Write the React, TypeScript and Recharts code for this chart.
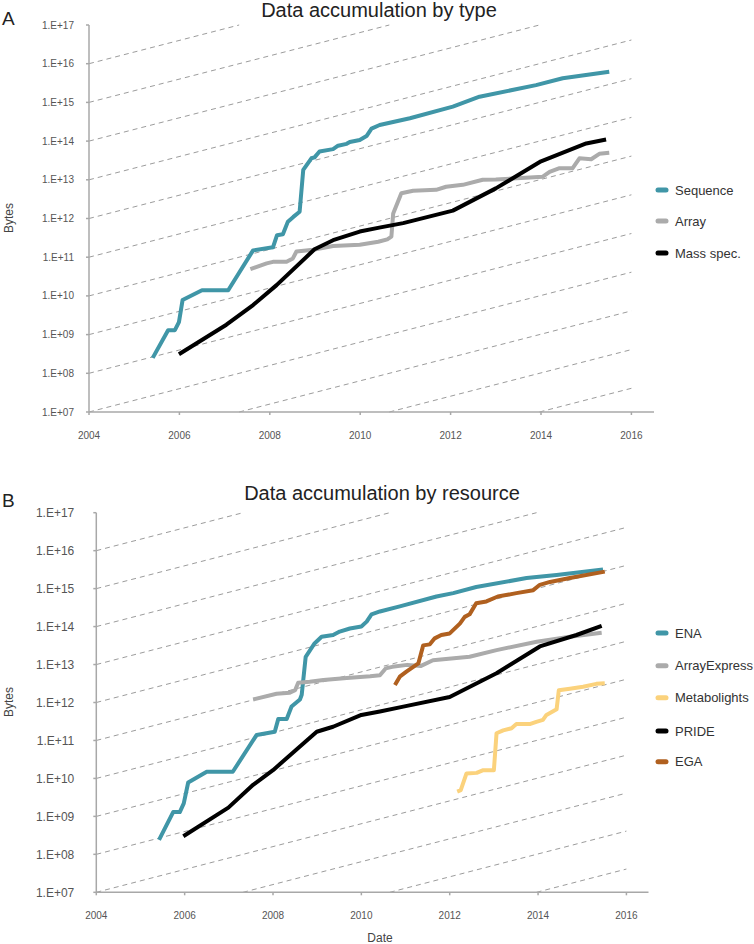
import React from "react";
import { LineChart, Line, XAxis, YAxis, ReferenceLine } from "recharts";

const FONT = "'Liberation Sans', Arial, sans-serif";

const yearTicks = [2004, 2006, 2008, 2010, 2012, 2014, 2016];
const byteTicks = [1e7, 1e8, 1e9, 1e10, 1e11, 1e12, 1e13, 1e14, 1e15, 1e16, 1e17];

// Panel A — by type
const sequenceYears = [2005.41, 2005.75, 2005.9, 2005.99, 2006.07, 2006.5, 2007.08, 2007.63, 2008.07, 2008.16, 2008.29, 2008.4, 2008.52, 2008.66, 2008.74, 2008.92, 2008.99, 2009.1, 2009.4, 2009.51, 2009.7, 2009.77, 2009.99, 2010.14, 2010.25, 2010.43, 2011.1, 2012.05, 2012.64, 2013.89, 2014.48, 2015.51];
const sequenceBytes = [2.5e8, 1.3e9, 1.3e9, 2.1e9, 7.8e9, 1.4e10, 1.4e10, 1.5e11, 1.8e11, 3.7e11, 3.9e11, 8.3e11, 1.1e12, 1.5e12, 1.8e13, 3.6e13, 3.8e13, 5.4e13, 6.2e13, 7.6e13, 8.5e13, 9.5e13, 1.07e14, 1.35e14, 2.1e14, 2.6e14, 3.9e14, 7.8e14, 1.4e15, 2.8e15, 4.2e15, 6.2e15];

const arrayYears = [2007.57, 2007.93, 2008.07, 2008.37, 2008.51, 2008.59, 2008.96, 2009.4, 2009.99, 2010.4, 2010.6, 2010.69, 2010.73, 2010.91, 2011.17, 2011.68, 2011.9, 2012.27, 2012.71, 2013.0, 2014.04, 2014.19, 2014.41, 2014.7, 2014.85, 2015.11, 2015.29, 2015.51];
const arrayBytes = [4.9e10, 6.9e10, 7.6e10, 7.6e10, 9.3e10, 1.4e11, 1.55e11, 1.95e11, 2.1e11, 2.5e11, 2.9e11, 3.4e11, 1.35e12, 4.5e12, 5.2e12, 5.5e12, 6.6e12, 7.4e12, 1.0e13, 1.02e13, 1.2e13, 1.6e13, 2.0e13, 2.0e13, 3.6e13, 3.4e13, 4.7e13, 5.0e13];

const massSpecYears = [2005.99, 2007.04, 2007.63, 2008.15, 2008.99, 2009.4, 2009.99, 2010.45, 2010.95, 2012.05, 2013.0, 2014.0, 2015.0, 2015.44];
const massSpecBytes = [3.1e8, 1.8e9, 5.8e9, 1.9e10, 1.6e11, 2.75e11, 4.6e11, 5.9e11, 7.6e11, 1.6e12, 6.0e12, 3.0e13, 8.7e13, 1.1e14];

// Panel B — by resource
const enaYears = [2005.42, 2005.74, 2005.89, 2005.98, 2006.08, 2006.5, 2007.09, 2007.63, 2008.04, 2008.12, 2008.31, 2008.42, 2008.61, 2008.65, 2008.74, 2008.94, 2009.1, 2009.36, 2009.51, 2009.74, 2010.0, 2010.12, 2010.23, 2010.42, 2010.87, 2011.7, 2012.08, 2012.6, 2013.74, 2014.42, 2015.47];
const enaBytes = [2.4e8, 1.3e9, 1.3e9, 2.2e9, 7.8e9, 1.5e10, 1.5e10, 1.4e11, 1.7e11, 3.7e11, 3.7e11, 7.8e11, 1.2e12, 1.6e12, 1.6e13, 3.6e13, 5.4e13, 6.0e13, 7.4e13, 8.9e13, 1.0e14, 1.35e14, 2.1e14, 2.5e14, 3.4e14, 6.2e14, 7.6e14, 1.1e15, 1.9e15, 2.3e15, 3.2e15];

const arrayExpressYears = [2007.55, 2008.08, 2008.38, 2008.5, 2008.57, 2008.83, 2009.14, 2009.67, 2010.2, 2010.42, 2010.55, 2010.7, 2011.04, 2011.34, 2011.62, 2012.45, 2013.06, 2013.97, 2014.72, 2015.44];
const arrayExpressBytes = [1.2e12, 1.7e12, 1.8e12, 2.1e12, 3.3e12, 3.5e12, 3.9e12, 4.4e12, 4.9e12, 5.2e12, 7.9e12, 8.7e12, 9.8e12, 9.1e12, 1.3e13, 1.6e13, 2.4e13, 4.0e13, 5.4e13, 6.9e13];

const metabolightsYears = [2012.17, 2012.25, 2012.38, 2012.61, 2012.76, 2013.0, 2013.06, 2013.21, 2013.4, 2013.51, 2013.81, 2013.96, 2014.11, 2014.19, 2014.42, 2014.47, 2014.72, 2015.02, 2015.32, 2015.51];
const metabolightsBytes = [4.5e9, 4.9e9, 1.35e10, 1.4e10, 1.65e10, 1.65e10, 1.55e11, 1.85e11, 2.1e11, 2.7e11, 2.7e11, 3.1e11, 3.5e11, 4.7e11, 6.6e11, 2.1e12, 2.3e12, 2.6e12, 3.1e12, 3.2e12];

const prideYears = [2005.97, 2006.99, 2007.55, 2008.0, 2008.99, 2009.36, 2010.0, 2010.42, 2010.95, 2012.0, 2013.06, 2014.04, 2014.87, 2015.44];
const prideBytes = [3.0e8, 1.7e9, 6.8e9, 1.65e10, 1.7e11, 2.3e11, 4.7e11, 5.8e11, 7.8e11, 1.4e12, 5.9e12, 3.0e13, 6.0e13, 1.05e14];

const egaYears = [2010.76, 2010.87, 2011.02, 2011.29, 2011.4, 2011.55, 2011.66, 2011.81, 2012.0, 2012.23, 2012.34, 2012.45, 2012.6, 2012.83, 2013.09, 2013.51, 2013.89, 2014.04, 2014.27, 2014.72, 2015.51];
const egaBytes = [2.9e12, 4.8e12, 6.5e12, 1.07e13, 3.2e13, 3.4e13, 4.9e13, 6.0e13, 6.6e13, 1.2e14, 1.8e14, 2.1e14, 4.1e14, 4.6e14, 6.2e14, 7.6e14, 9.1e14, 1.26e15, 1.5e15, 1.9e15, 2.8e15];

const TEAL = "#4096a7";
const GREY = "#ababab";
const BLACK = "#000000";
const SAND = "#fbd27c";
const RUST = "#b0601f";

type Series = { name: string; color: string; years: number[]; bytes: number[] };

const typeSeries: Series[] = [
  { name: "Sequence", color: TEAL, years: sequenceYears, bytes: sequenceBytes },
  { name: "Array", color: GREY, years: arrayYears, bytes: arrayBytes },
  { name: "Mass spec.", color: BLACK, years: massSpecYears, bytes: massSpecBytes },
];

const resourceSeries: Series[] = [
  { name: "ENA", color: TEAL, years: enaYears, bytes: enaBytes },
  { name: "ArrayExpress", color: GREY, years: arrayExpressYears, bytes: arrayExpressBytes },
  { name: "Metabolights", color: SAND, years: metabolightsYears, bytes: metabolightsBytes },
  { name: "PRIDE", color: BLACK, years: prideYears, bytes: prideBytes },
  { name: "EGA", color: RUST, years: egaYears, bytes: egaBytes },
];

// guide lines: doubling every year, one line per decade (exponent at 2004)
const guideExponents = [4, 5, 6, 7, 8, 9, 10, 11, 12, 13, 14, 15, 16];
const LOG2 = Math.log10(2);
function guideSegment(k: number) {
  const x0 = k >= 7 ? 2004 : 2004 + (7 - k) / LOG2;
  const y0 = k >= 7 ? Math.pow(10, k) : 1e7;
  const xTop = 2004 + (17 - k) / LOG2;
  const x1 = Math.min(2016, xTop);
  const y1 = xTop <= 2016 ? 1e17 : Math.pow(10, k) * Math.pow(2, 12);
  return [{ x: x0, y: y0 }, { x: x1, y: y1 }];
}

const fmtBytes = (v: number) => "1.E+" + String(Math.round(Math.log10(v))).padStart(2, "0");

function Panel({
  series,
  top,
  height,
  margin,
  yTickFont,
  yTickMargin,
}: {
  series: Series[];
  top: number;
  height: number;
  margin: { top: number; right: number; bottom: number; left: number };
  yTickFont: number;
  yTickMargin: number;
}) {
  return (
    <div style={{ position: "absolute", left: 0, top }}>
      <LineChart width={754} height={height} margin={margin}>
        <XAxis
          type="number"
          dataKey="x"
          domain={[2004, 2016.5]}
          ticks={yearTicks}
          interval={0}
          allowDataOverflow
          height={30}
          stroke="#a8a8a8"
          strokeWidth={1.5}
          tickSize={3}
          tickMargin={17}
          tick={{ fontSize: 10, fill: "#555" }}
        />
        <YAxis
          type="number"
          dataKey="y"
          scale="log"
          domain={[1e7, 1e17]}
          ticks={byteTicks}
          interval={0}
          allowDataOverflow
          width={60}
          stroke="#a8a8a8"
          strokeWidth={1.5}
          tickSize={3}
          tickMargin={yTickMargin}
          tickFormatter={fmtBytes}
          tick={{ fontSize: yTickFont, fill: "#555" }}
        />
        {guideExponents.map((k) => (
          <ReferenceLine
            key={k}
            segment={guideSegment(k)}
            stroke="#9c9c9c"
            strokeWidth={1}
            strokeDasharray="5 4"
            ifOverflow="visible"
          />
        ))}
        {series.map((s) => (
          <Line
            key={s.name}
            data={s.years.map((x, i) => ({ x, y: s.bytes[i] }))}
            dataKey="y"
            type="linear"
            stroke={s.color}
            strokeWidth={4}
            strokeLinejoin="round"
            dot={false}
            activeDot={false}
            isAnimationActive={false}
          />
        ))}
      </LineChart>
    </div>
  );
}

function LegendBlock({ series, ys }: { series: Series[]; ys: number[] }) {
  return (
    <g>
      {series.map((s, i) => (
        <g key={s.name}>
          <line x1={658} x2={666} y1={ys[i]} y2={ys[i]} stroke={s.color} strokeWidth={5} strokeLinecap="round" />
          <text x={675} y={ys[i] + 4.5} fontSize={13} fill="#333">
            {s.name}
          </text>
        </g>
      ))}
    </g>
  );
}

export default function App() {
  return (
    <div
      style={{
        position: "absolute",
        left: 0,
        top: 0,
        width: 754,
        height: 944,
        background: "#fff",
        fontFamily: FONT,
        overflow: "hidden",
      }}
    >
      <Panel
        series={typeSeries}
        top={0}
        height={460}
        margin={{ top: 25, right: 100, bottom: 18, left: 29 }}
        yTickFont={10}
        yTickMargin={12}
      />
      <Panel
        series={resourceSeries}
        top={460}
        height={484}
        margin={{ top: 52.7, right: 105.5, bottom: 21.7, left: 36.3 }}
        yTickFont={12}
        yTickMargin={19}
      />
      <svg
        width={754}
        height={944}
        style={{ position: "absolute", left: 0, top: 0, pointerEvents: "none", fontFamily: FONT }}
      >
        <text x={2} y={25} fontSize={19} fill="#222">A</text>
        <text x={379} y={17} fontSize={20} fill="#222" textAnchor="middle">Data accumulation by type</text>
        <text transform="translate(12.5,218) rotate(-90)" fontSize={12} fill="#444" textAnchor="middle">Bytes</text>
        <LegendBlock series={typeSeries} ys={[190, 221, 253]} />

        <text x={2} y={507} fontSize={19} fill="#222">B</text>
        <text x={382} y={500} fontSize={20} fill="#222" textAnchor="middle">Data accumulation by resource</text>
        <text transform="translate(12.5,702) rotate(-90)" fontSize={12} fill="#444" textAnchor="middle">Bytes</text>
        <text x={380} y={942} fontSize={12} fill="#444" textAnchor="middle">Date</text>
        <LegendBlock series={resourceSeries} ys={[633, 665.7, 697.7, 731, 761.7]} />
      </svg>
    </div>
  );
}
